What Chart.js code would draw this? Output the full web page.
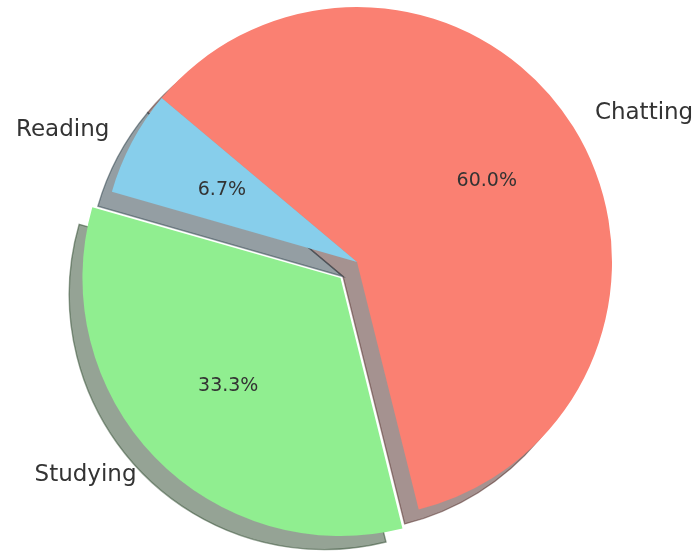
<!DOCTYPE html>
<html>
<head>
<meta charset="utf-8">
<script src="https://cdn.jsdelivr.net/npm/chart.js@4.4.1/dist/chart.umd.min.js"></script>
<style>
  html, body { margin: 0; padding: 0; background: #fff; }
  #pieChart { display: block; }
</style>
</head>
<body>
<canvas id="pieChart" width="695" height="552"></canvas>
<script>
// Datos del gráfico
const categories = ['Chatting', 'Studying', 'Reading'];
const hours = [9, 5, 1];

// Estilo
const sliceColors = ['#FA8072', '#90EE90', '#87CEEB'];
const explodePx = [0, 26, 0];   // desplazamiento deseado en píxeles
const SHADOW_DX = -14;
const SHADOW_DY = 14.5;
const TEXT_COLOR = '#333333';

const total = hours.reduce((a, b) => a + b, 0);

// Chart.js mueve el arco offset/4 * (2 - sin(circunferencia)); convertimos
function fixFactor(circ) {
    return 2 - Math.sin(Math.min(Math.PI, circ));
}
const arcOffsets = explodePx.map((px, i) => px * 4 / fixFactor(hours[i] / total * 2 * Math.PI));

function realOffset(arc) {
    const off = (arc.options.offset || 0) / 4;
    return off * fixFactor(arc.endAngle - arc.startAngle);
}

function shadowColor(hex) {
    const r = parseInt(hex.slice(1, 3), 16) * 0.3;
    const g = parseInt(hex.slice(3, 5), 16) * 0.3;
    const b = parseInt(hex.slice(5, 7), 16) * 0.3;
    return `rgba(${r}, ${g}, ${b}, 0.5)`;
}

// Sombra tipo matplotlib, dibujada debajo de las rebanadas
const shadowPlugin = {
    id: 'shadowPlugin',
    beforeDatasetsDraw(chart) {
        const ctx = chart.ctx;
        const meta = chart.getDatasetMeta(0);
        meta.data.forEach((arc, i) => {
            const mid = (arc.startAngle + arc.endAngle) / 2;
            const off = realOffset(arc);
            const cx = arc.x + Math.cos(mid) * off + SHADOW_DX;
            const cy = arc.y + Math.sin(mid) * off + SHADOW_DY;
            const col = shadowColor(sliceColors[i]);
            ctx.save();
            ctx.beginPath();
            ctx.moveTo(cx, cy);
            ctx.arc(cx, cy, arc.outerRadius, arc.startAngle, arc.endAngle);
            ctx.closePath();
            ctx.fillStyle = col;
            ctx.fill();
            ctx.lineWidth = 1.4;
            ctx.strokeStyle = col;
            ctx.stroke();
            ctx.restore();
        });
    }
};

// Etiquetas y porcentajes
const labelPlugin = {
    id: 'labelPlugin',
    afterDatasetsDraw(chart) {
        const ctx = chart.ctx;
        const meta = chart.getDatasetMeta(0);
        meta.data.forEach((arc, i) => {
            const mid = (arc.startAngle + arc.endAngle) / 2;
            const off = realOffset(arc);
            const cx = arc.x + Math.cos(mid) * off;
            const cy = arc.y + Math.sin(mid) * off;
            const r = arc.outerRadius;

            ctx.save();
            ctx.fillStyle = TEXT_COLOR;
            ctx.textBaseline = 'middle';

            // nombre de la categoría
            ctx.font = '23px "DejaVu Sans"';
            const lx = cx + Math.cos(mid) * r * 1.1;
            const ly = cy + Math.sin(mid) * r * 1.1;
            ctx.textAlign = Math.cos(mid) < 0 ? 'right' : 'left';
            ctx.fillText(categories[i], lx, ly);

            // porcentaje
            ctx.font = '19px "DejaVu Sans"';
            ctx.textAlign = 'center';
            const px = cx + Math.cos(mid) * r * 0.6;
            const py = cy + Math.sin(mid) * r * 0.6;
            ctx.fillText((hours[i] / total * 100).toFixed(1) + '%', px, py);
            ctx.restore();
        });
    }
};

const ctx = document.getElementById('pieChart').getContext('2d');
new Chart(ctx, {
    type: 'pie',
    data: {
        labels: categories,
        datasets: [{
            data: hours,
            backgroundColor: sliceColors,
            borderWidth: 0,
            offset: arcOffsets,
            hoverOffset: 0
        }]
    },
    options: {
        responsive: false,
        animation: false,
        rotation: 310,
        radius: 255,
        layout: { padding: { left: 19, right: 0, top: 0, bottom: 28 } },
        plugins: {
            legend: { display: false },
            tooltip: { enabled: false }
        },
        events: []
    },
    plugins: [shadowPlugin, labelPlugin]
});
</script>
</body>
</html>
